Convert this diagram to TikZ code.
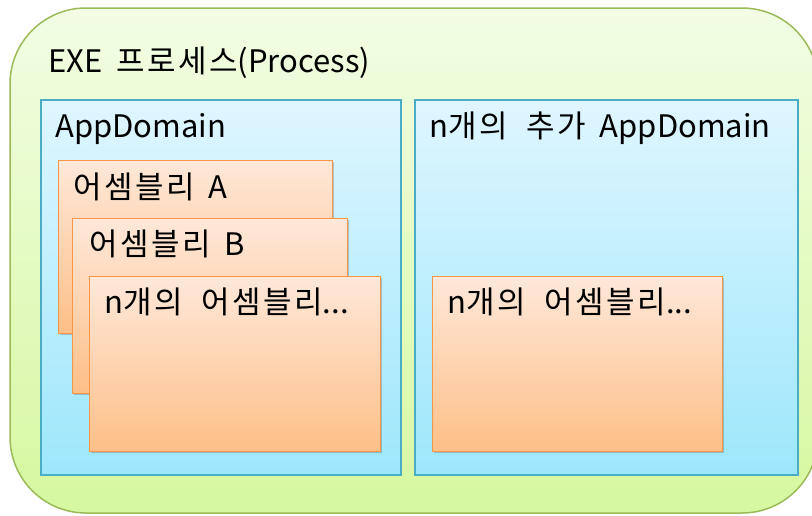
\documentclass[tikz,border=0pt]{standalone}
\usepackage{fontspec}
\setmainfont[WordSpace=2]{Noto Sans CJK KR}
\newfontfamily\hg[LetterSpace=8,WordSpace=2]{Noto Sans CJK KR}
\usetikzlibrary{shadows}
\definecolor{gborder}{HTML}{9BBB59}
\definecolor{gtop}{HTML}{F2FDE4}
\definecolor{gbot}{HTML}{D6F8A0}
\definecolor{bborder}{HTML}{4BACC6}
\definecolor{btop}{HTML}{DFF6FF}
\definecolor{bbot}{HTML}{9DE7FB}
\definecolor{oborder}{HTML}{F79646}
\definecolor{otop}{HTML}{FEE8D9}
\definecolor{obot}{HTML}{FDBF87}
\tikzset{
  processbox/.style={draw=gborder, line width=1.5pt, rounded corners=76pt, top color=gtop, bottom color=gbot},
  domainbox/.style={draw=bborder, line width=1.5pt, top color=btop, bottom color=bbot, anchor=north west, inner sep=0pt,
     drop shadow={shadow xshift=1.5pt, shadow yshift=-1.5pt, opacity=0.35, fill=black!60}},
  asmbox/.style={draw=oborder, line width=1.2pt, top color=otop, bottom color=obot, anchor=north west, inner sep=0pt,
     drop shadow={shadow xshift=1.5pt, shadow yshift=-1.5pt, opacity=0.35, fill=black!60}},
  lbl/.style={anchor=base west, inner sep=0pt, font=\fontsize{31}{35}\selectfont, text=black}
}
\begin{document}
\begin{tikzpicture}[x=1pt,y=-1pt]
\useasboundingbox (0,0) rectangle (812,515);
\fill[white] (0,0) rectangle (812,515);
\draw[processbox] (10,8) rectangle (818,513);
\node[lbl] (title) at (48,72) {EXE {\hg 프로세스}(Process)};
% AppDomains
\node[domainbox, minimum width=360pt, minimum height=375pt] (dom1) at (40,99) {};
\node[domainbox, minimum width=383pt, minimum height=375pt] (dom2) at (414,99) {};
\node[lbl] (dom1l) at (55,137) {AppDomain};
\node[lbl] (dom2l) at (429,137) {n{\hg 개의 추가} AppDomain};
% assemblies
\node[asmbox, minimum width=274pt, minimum height=173pt] (asmA) at (58,160) {};
\node[lbl] (asmAl) at (73,198) {{\hg 어셈블리} A};
\node[asmbox, minimum width=275pt, minimum height=175pt] (asmB) at (72,218) {};
\node[lbl] (asmBl) at (89,255) {{\hg 어셈블리} B};
\node[asmbox, minimum width=291pt, minimum height=175pt] (asmN) at (89,276) {};
\node[lbl] (asmNl) at (104,313) {n{\hg 개의 어셈블리}...};
\node[asmbox, minimum width=290pt, minimum height=175pt] (asmR) at (432,276) {};
\node[lbl] (asmRl) at (447,313) {n{\hg 개의 어셈블리}...};
\end{tikzpicture}
\end{document}
